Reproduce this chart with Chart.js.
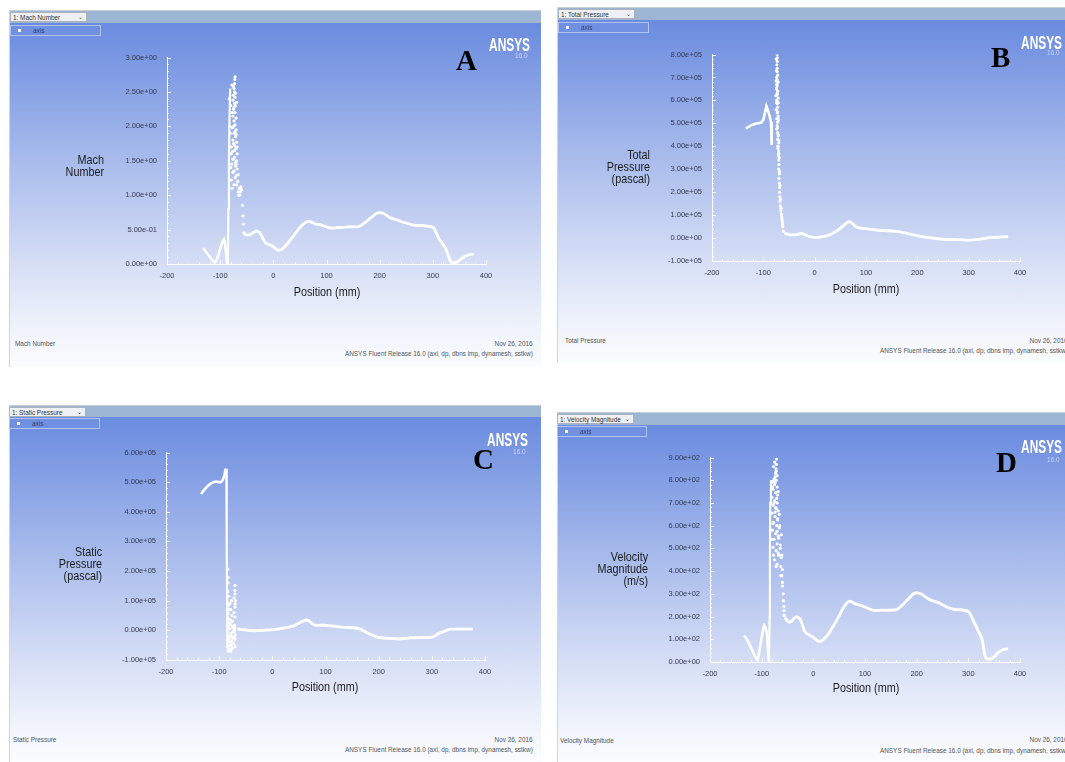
<!DOCTYPE html>
<html><head><meta charset="utf-8">
<script src="https://cdn.jsdelivr.net/npm/chart.js@4.4.1/dist/chart.umd.min.js"></script>
<style>
html,body{margin:0;padding:0}
body{width:1065px;height:762px;background:#fff;position:relative;overflow:hidden;font-family:"Liberation Sans",Arial,sans-serif}
.panel{position:absolute;overflow:hidden;border-left:1px solid #cfd4dc}
.hdr{position:absolute;left:0;right:0;top:0;background:#9db6d3;border-top:1px solid #c9ced6}
.grad{position:absolute;left:0;right:0;bottom:0;background:linear-gradient(to bottom,#6a8bdf 0%,#a5b9eb 38%,#d3dcf5 68%,#eef2fb 88%,#fbfcfe 100%)}
.dd{position:absolute;height:10px;background:#eef0f3;border:1px solid #aab2be;box-sizing:border-box;font-size:6.4px;line-height:9px;color:#333;padding-left:2px;white-space:nowrap}
.dd span{position:absolute;right:3px;top:0;font-size:6px;color:#555}
.leg{position:absolute;height:11px;border:1px solid #b3c3f1;box-sizing:border-box;background:#7091e1}
.leg i{position:absolute;left:7px;top:3px;width:3px;height:3px;background:#fff}
.leg b{position:absolute;left:22px;top:0;font-weight:normal;font-size:6.5px;line-height:9px;color:#33406a}
.t{position:absolute;white-space:nowrap}
.ytl{font-size:13.5px;line-height:12px;color:#1c1c1c;text-align:right;transform:scaleX(0.8);transform-origin:right top}
.xtl{font-size:13.5px;line-height:14px;color:#1c1c1c;transform:translateX(-50%) scaleX(0.8)}
.bl{font-size:8px;line-height:10px;color:#555;transform:scaleX(0.8);transform-origin:left top}
.br{font-size:8px;line-height:10px;color:#555;transform:scaleX(0.8);transform-origin:right top;text-align:right}
.ans{font-size:18px;line-height:18px;font-weight:bold;color:#fff;transform:scaleX(0.66);transform-origin:right top}
.ver{font-size:8px;line-height:10px;color:#c9d4f3;transform:scaleX(0.8);transform-origin:right top}
.let{font-family:"Liberation Serif","Times New Roman",serif;font-weight:bold;font-size:29px;line-height:29px;color:#000}
canvas{position:absolute}
</style>
</head><body>
<script>
// ---------------- DATA ----------------
// A: Mach Number vs Position (mm)
const machLeftX  = [-132, -126, -120, -114, -110, -107, -103, -99, -95, -93, -91, -89, -87, -85.5];
const machLeftY  = [0.23, 0.17, 0.11, 0.05, 0.02, 0.05, 0.14, 0.25, 0.34, 0.36, 0.30, 0.15, 0.02, 0.0];
const machSpikeLineX = [-85.5, -84.5, -83.5, -82.5, -81];
const machSpikeLineY = [0.0, 0.8, 1.5, 2.1, 2.55];
const machSpikeX = [-72, -72.5, -73, -74, -73, -75, -72, -76, -73, -71, -75, -72, -76, -70, -74, -72, -77, -70, -74, -71, -76, -69, -73, -70, -77, -68, -73, -69, -78, -71, -68, -76, -70, -79, -67, -74, -64, -62, -61, -63, -60, -58, -57, -56, -80, -81, -79, -66, -65,
                    -78, -75, -71, -69, -74, -77, -72, -70, -75, -79, -73, -68, -71, -76, -74, -70, -66, -69, -72, -78, -80, -82, -81, -83, -75];
const machSpikeY = [2.72, 2.68, 2.62, 2.55, 2.50, 2.45, 2.42, 2.38, 2.33, 2.30, 2.25, 2.20, 2.15, 2.12, 2.08, 2.02, 1.98, 1.95, 1.90, 1.85, 1.80, 1.77, 1.72, 1.68, 1.63, 1.60, 1.55, 1.50, 1.45, 1.42, 1.38, 1.33, 1.28, 1.22, 1.20, 1.15, 1.10, 1.05, 1.12, 1.00, 1.08, 0.85, 0.70, 0.58, 2.30, 1.90, 1.60, 1.05, 1.0,
                    2.60, 2.58, 2.48, 2.35, 2.28, 2.20, 1.92, 1.88, 1.75, 1.70, 1.65, 1.70, 1.48, 1.52, 1.35, 1.45, 1.30, 1.15, 1.25, 1.10, 1.40, 2.00, 1.70, 2.40, 2.00];
const machRightX = [-57, -53, -48, -43, -37, -32, -28, -24, -20, -16, -12, -8, -4, 0, 5, 10, 15, 20, 26, 32, 38, 44, 50, 56, 62, 68, 74, 80, 88, 96, 104, 112, 120, 130, 140, 150, 158, 165, 172, 180, 188, 195, 202, 208, 214, 220, 228, 236, 244, 252, 260, 270, 280, 290, 298, 302, 306, 310, 314, 318, 322, 326, 330, 334, 338, 342, 348, 354, 360, 366, 372, 377];
const machRightY = [0.47, 0.43, 0.42, 0.43, 0.46, 0.48, 0.47, 0.44, 0.38, 0.32, 0.29, 0.28, 0.27, 0.25, 0.22, 0.20, 0.21, 0.24, 0.29, 0.35, 0.41, 0.47, 0.53, 0.58, 0.61, 0.62, 0.60, 0.58, 0.57, 0.55, 0.53, 0.52, 0.53, 0.53, 0.54, 0.54, 0.54, 0.56, 0.60, 0.65, 0.70, 0.74, 0.745, 0.73, 0.70, 0.67, 0.65, 0.63, 0.61, 0.59, 0.57, 0.56, 0.56, 0.55, 0.54, 0.52, 0.46, 0.39, 0.34, 0.30, 0.25, 0.19, 0.10, 0.03, 0.02, 0.02, 0.04, 0.08, 0.11, 0.13, 0.14, 0.14];
const machTicks = [0, 0.5, 1.0, 1.5, 2.0, 2.5, 3.0];

// B: Total Pressure (pascal)
const tpLeftX = [-134, -128, -122, -116, -110, -104, -100, -97, -94, -91, -88, -85, -84, -83.5];
const tpLeftY = [4.77e5, 4.86e5, 4.93e5, 4.98e5, 5.0e5, 5.03e5, 5.15e5, 5.45e5, 5.75e5, 5.55e5, 5.34e5, 5.05e5, 4.6e5, 4.05e5];
const tpSpikeX = [-73, -73, -73, -73.5, -73, -73, -72, -74, -73, -71, -73, -74, -72, -73.5, -71, -74, -73, -72, -75, -73, -71, -74, -72, -73, -74, -72, -71, -72, -70, -71, -70, -70.5, -70, -69.5, -70, -69, -69.5, -69, -68.5, -68, -68, -67.5, -67, -66, -65, -64, -63, -62, -61,
                  -75, -74.5, -75, -74, -75.5, -74, -72, -70.5, -72.5, -71, -70, -71.5, -69, -68.5, -67.5, -66.5, -65.5, -64.5, -63.5, -62.5, -74, -73, -71, -72, -70];
const tpSpikeY = [8.0e5, 7.85e5, 7.7e5, 7.55e5, 7.4e5, 7.25e5, 7.1e5, 7.0e5, 6.9e5, 6.8e5, 6.65e5, 6.5e5, 6.4e5, 6.25e5, 6.1e5, 6.0e5, 5.85e5, 5.7e5, 5.6e5, 5.45e5, 5.3e5, 5.2e5, 5.05e5, 4.9e5, 4.75e5, 4.6e5, 4.45e5, 4.3e5, 4.15e5, 4.0e5, 3.8e5, 3.6e5, 3.4e5, 3.2e5, 3.0e5, 2.8e5, 2.6e5, 2.4e5, 2.2e5, 2.0e5, 1.8e5, 1.6e5, 1.4e5, 1.2e5, 1.05e5, 0.9e5, 0.7e5, 0.5e5, 0.3e5,
                  7.8e5, 7.3e5, 6.85e5, 6.55e5, 6.2e5, 5.9e5, 5.5e5, 5.15e5, 4.8e5, 4.5e5, 4.25e5, 3.9e5, 3.5e5, 2.9e5, 2.3e5, 1.7e5, 1.3e5, 1.0e5, 0.8e5, 0.6e5, 6.7e5, 6.3e5, 5.9e5, 4.0e5, 3.7e5];
const tpRightX = [-59, -55, -50, -45, -40, -35, -30, -25, -20, -15, -10, -5, 0, 5, 10, 15, 20, 25, 30, 35, 40, 45, 50, 55, 60, 65, 68, 72, 76, 80, 85, 90, 100, 110, 120, 130, 140, 150, 160, 170, 180, 190, 200, 210, 220, 230, 240, 250, 260, 270, 280, 290, 300, 310, 320, 330, 340, 350, 360, 370, 377];
const tpRightY = [0.22e5, 0.18e5, 0.15e5, 0.14e5, 0.14e5, 0.15e5, 0.18e5, 0.2e5, 0.16e5, 0.1e5, 0.06e5, 0.04e5, 0.03e5, 0.03e5, 0.04e5, 0.06e5, 0.08e5, 0.11e5, 0.15e5, 0.2e5, 0.27e5, 0.34e5, 0.42e5, 0.52e5, 0.62e5, 0.7e5, 0.72e5, 0.66e5, 0.58e5, 0.5e5, 0.45e5, 0.43e5, 0.41e5, 0.38e5, 0.35e5, 0.33e5, 0.32e5, 0.31e5, 0.29e5, 0.25e5, 0.2e5, 0.15e5, 0.1e5, 0.06e5, 0.03e5, 0.0, -0.03e5, -0.05e5, -0.06e5, -0.06e5, -0.07e5, -0.08e5, -0.09e5, -0.08e5, -0.06e5, -0.02e5, 0.02e5, 0.03e5, 0.04e5, 0.05e5, 0.06e5];
const tpTicks = [-1e5, 0, 1e5, 2e5, 3e5, 4e5, 5e5, 6e5, 7e5, 8e5];

// C: Static Pressure (pascal)
const spLeftX = [-134, -130, -126, -121, -116, -111, -106, -101, -97, -94, -92, -90, -88, -86.5];
const spLeftY = [4.6e5, 4.7e5, 4.78e5, 4.88e5, 4.95e5, 5.0e5, 5.02e5, 5.0e5, 5.0e5, 5.05e5, 5.12e5, 5.25e5, 5.42e5, 5.45e5];
const spSpikeLineX = [-86.5, -86, -85.5, -85, -84.5];
const spSpikeLineY = [5.45e5, 4.0e5, 2.5e5, 1.0e5, -0.6e5];
const spSpikeX = [-83.4, -83.4, -83, -70.2, -70.5, -70.2, -82, -76.5, -70, -83, -70.2, -78, -83.4, -72, -78.4, -70, -81, -70.8, -75, -80, -72, -78, -70, -82, -74, -84.6, -70, -79, -77, -82, -80, -78, -83, -75, -71, -73, -76,
                  -83, -81, -79, -77, -75, -73, -71, -69.5, -82, -80, -76, -72, -70, -84, -81, -78, -74, -71, -83, -79];
const spSpikeY = [2.07e5, 1.79e5, 1.6e5, 1.51e5, 1.35e5, 1.23e5, 1.15e5, 1.0e5, 0.9e5, 0.85e5, 0.79e5, 0.7e5, 0.57e5, 0.6e5, 0.35e5, 0.45e5, 0.25e5, 0.18e5, 0.12e5, 0.05e5, -0.05e5, -0.1e5, -0.15e5, -0.2e5, -0.25e5, -0.32e5, -0.3e5, -0.4e5, -0.49e5, -0.55e5, -0.66e5, -0.7e5, -0.7e5, -0.6e5, 0.02e5, 0.08e5, -0.35e5,
                  0.4e5, -0.3e5, 0.2e5, -0.2e5, 0.3e5, -0.45e5, 0.1e5, 1.0e5, -0.6e5, 0.9e5, 0.5e5, 1.1e5, -0.55e5, 1.3e5, 0.7e5, -0.65e5, -0.05e5, -0.2e5, 0.15e5, -0.5e5];
const spRightX = [-66, -60, -55, -50, -45, -40, -30, -20, -10, 0, 10, 20, 25, 30, 35, 40, 45, 50, 55, 60, 64, 68, 72, 76, 80, 85, 90, 100, 110, 120, 130, 140, 150, 160, 165, 170, 175, 180, 185, 190, 195, 200, 210, 220, 230, 240, 250, 260, 270, 280, 290, 300, 305, 310, 315, 320, 325, 330, 335, 340, 350, 360, 370, 377];
const spRightY = [0.04e5, 0.03e5, 0.02e5, 0.01e5, 0.0, -0.01e5, -0.01e5, 0.0, 0.01e5, 0.02e5, 0.04e5, 0.07e5, 0.09e5, 0.11e5, 0.13e5, 0.15e5, 0.19e5, 0.24e5, 0.29e5, 0.33e5, 0.35e5, 0.33e5, 0.28e5, 0.22e5, 0.18e5, 0.17e5, 0.17e5, 0.17e5, 0.15e5, 0.13e5, 0.11e5, 0.1e5, 0.09e5, 0.07e5, 0.04e5, 0.0, -0.05e5, -0.1e5, -0.14e5, -0.18e5, -0.21e5, -0.24e5, -0.26e5, -0.27e5, -0.28e5, -0.29e5, -0.27e5, -0.25e5, -0.25e5, -0.24e5, -0.24e5, -0.23e5, -0.2e5, -0.14e5, -0.09e5, -0.06e5, -0.02e5, 0.02e5, 0.04e5, 0.04e5, 0.04e5, 0.04e5, 0.04e5, 0.04e5];
const spTicks = [-1e5, 0, 1e5, 2e5, 3e5, 4e5, 5e5, 6e5];

// D: Velocity Magnitude (m/s)
const velLeftX = [-134, -128, -122, -116, -111, -108, -105, -101, -97, -95, -93, -90, -88, -86];
const velLeftY = [117, 98, 70, 40, 18, 8, 40, 95, 145, 160, 152, 130, 60, 5];
const velSpikeLineX = [-86, -84.5, -84, -83.5, -82];
const velSpikeLineY = [0, 200, 450, 700, 800];
const velSpikeX = [-71, -71.5, -72, -73, -74, -76, -78, -80, -72, -75, -70, -78, -73, -69, -80, -75, -70, -78, -72, -68, -80, -74, -69, -77, -71, -66, -79, -73, -68, -76, -70, -64, -78, -72, -67, -62, -75, -70, -63, -60, -61, -60, -59.8, -58, -57.8, -57, -56.6, -56.6,
                   -75, -77, -72, -70, -74, -79, -68, -71, -76, -73, -66, -69, -78, -65, -62, -67, -64, -61, -74, -70, -80, -77, -72, -68, -63];
const velSpikeY = [893, 870, 850, 830, 815, 805, 795, 790, 800, 780, 770, 760, 745, 735, 725, 710, 700, 690, 675, 665, 655, 640, 625, 615, 600, 590, 580, 565, 555, 540, 520, 515, 505, 490, 470, 460, 450, 430, 420, 407, 380, 350, 334, 300, 270, 245, 226, 205,
                   880, 860, 840, 820, 790, 770, 750, 720, 700, 680, 650, 630, 610, 600, 560, 545, 500, 470, 660, 575, 540, 470, 420, 480, 380];
const velRightX = [-55, -50, -46, -42, -38, -34, -30, -26, -22, -18, -14, -10, -5, 0, 5, 10, 15, 20, 25, 30, 35, 40, 45, 50, 55, 60, 65, 70, 75, 80, 90, 100, 110, 120, 130, 140, 150, 160, 165, 170, 175, 180, 185, 190, 195, 200, 205, 210, 215, 220, 230, 240, 250, 260, 270, 280, 290, 300, 304, 308, 312, 316, 320, 324, 328, 332, 336, 340, 345, 350, 355, 360, 365, 370, 377];
const velRightY = [196, 180, 175, 180, 190, 198, 197, 190, 170, 140, 128, 122, 115, 108, 98, 92, 92, 100, 112, 126, 145, 163, 182, 203, 225, 245, 260, 268, 264, 257, 250, 242, 232, 226, 228, 228, 228, 230, 236, 246, 257, 268, 280, 292, 302, 305, 302, 298, 290, 282, 270, 262, 252, 240, 233, 230, 229, 222, 210, 190, 170, 152, 133, 115, 85, 30, 12, 13, 15, 22, 35, 45, 52, 56, 58];
const velTicks = [0, 100, 200, 300, 400, 500, 600, 700, 800, 900];

const posTicks = [-200, -100, 0, 100, 200, 300, 400];

// ---------------- LAYOUT (page px) ----------------
const PANELS = [
  {key:'A', box:[9,10,531,357], hdr:13, dd:[1,2,77], leg:[1,15,91], plot:[167,55,486,264], yr:[0,3], ticks:machTicks,
   series:[machLeftX,machLeftY,machSpikeLineX,machSpikeLineY,machSpikeX,machSpikeY,machRightX,machRightY],
   ddText:'1: Mach Number', ytitle:['Mach','Number'], yt:[104,154], xt:[327,285], letter:[456,46], ans:[530,36], ver:[528,51],
   foot:['Mach Number',15,339], date:[533,339], rel:[533,349]},
  {key:'B', box:[557,7,508,356], hdr:13, dd:[1,2,77], leg:[1,15,91], plot:[712,52,1020,261], yr:[-1e5,8e5], ticks:tpTicks,
   series:[tpLeftX,tpLeftY,[],[],tpSpikeX,tpSpikeY,tpRightX,tpRightY],
   ddText:'1: Total Pressure', ytitle:['Total','Pressure','(pascal)'], yt:[650,149], xt:[866,282], letter:[991,43], ans:[1062,34], ver:[1060,48],
   foot:['Total Pressure',565,336], date:[1068,336], rel:[1068,346]},
  {key:'C', box:[9,405,531,357], hdr:12, dd:[0,2,77], leg:[0,14,91], plot:[166,450,485,660], yr:[-1e5,6e5], ticks:spTicks,
   series:[spLeftX,spLeftY,spSpikeLineX,spSpikeLineY,spSpikeX,spSpikeY,spRightX,spRightY],
   ddText:'1: Static Pressure', ytitle:['Static','Pressure','(pascal)'], yt:[102,546], xt:[325,680], letter:[473,445], ans:[528,431], ver:[526,447],
   foot:['Static Pressure',13,735], date:[533,735], rel:[533,745]},
  {key:'D', box:[557,412,508,350], hdr:13, dd:[0,2,77], leg:[0,14,90], plot:[710,455,1020,662], yr:[0,900], ticks:velTicks,
   series:[velLeftX,velLeftY,velSpikeLineX,velSpikeLineY,velSpikeX,velSpikeY,velRightX,velRightY],
   ddText:'1: Velocity Magnitude', ytitle:['Velocity','Magnitude','(m/s)'], yt:[648,551], xt:[866,681], letter:[996,448], ans:[1062,438], ver:[1060,455],
   foot:['Velocity Magnitude',560,736], date:[1068,735], rel:[1068,746]}
];

function sci(v){
  if (Math.abs(v) < 1e-12) return '0.00e+00';
  let e = Math.floor(Math.log10(Math.abs(v)) + 1e-9);
  let ms = (v / Math.pow(10, e)).toFixed(2);
  if (Math.abs(parseFloat(ms)) >= 10) { e += 1; ms = (v/Math.pow(10,e)).toFixed(2); }
  const es = (e < 0 ? '-' : '+') + String(Math.abs(e)).padStart(2,'0');
  return ms + 'e' + es;
}
function zip(xs, ys){ return xs.map((x,i)=>({x:x, y:ys[i]})); }
function el(tag, cls, style, text){
  const d = document.createElement(tag); if (cls) d.className = cls;
  Object.assign(d.style, style||{}); if (text!=null) d.textContent = text;
  document.body.appendChild(d); return d;
}
const px = v => v + 'px';

const tickMarks = {
  id:'tickMarks',
  afterDraw(chart){
    const {ctx, scales:{x, y}, chartArea:a} = chart;
    ctx.save();
    ctx.strokeStyle = 'rgba(255,255,255,0.95)'; ctx.lineWidth = 1;
    const yt = y.ticks.map(t=>t.value);
    for (let i=0;i<yt.length;i++){
      const p = Math.round(y.getPixelForValue(yt[i])) + 0.5;
      ctx.beginPath(); ctx.moveTo(a.left, p); ctx.lineTo(a.left+4, p); ctx.stroke();
      if (i < yt.length-1){
        for (let k=1;k<5;k++){
          const q = Math.round(y.getPixelForValue(yt[i] + (yt[i+1]-yt[i])*k/5)) + 0.5;
          ctx.beginPath(); ctx.moveTo(a.left, q); ctx.lineTo(a.left+2, q); ctx.stroke();
        }
      }
    }
    const xt = x.ticks.map(t=>t.value);
    for (let i=0;i<xt.length;i++){
      const p = Math.round(x.getPixelForValue(xt[i])) + 0.5;
      ctx.beginPath(); ctx.moveTo(p, a.bottom); ctx.lineTo(p, a.bottom-4); ctx.stroke();
      if (i < xt.length-1){
        for (let k=1;k<5;k++){
          const q = Math.round(x.getPixelForValue(xt[i] + (xt[i+1]-xt[i])*k/5)) + 0.5;
          ctx.beginPath(); ctx.moveTo(q, a.bottom); ctx.lineTo(q, a.bottom-2); ctx.stroke();
        }
      }
    }
    ctx.restore();
  }
};

const tickFont = {family:'"Liberation Sans Narrow","Liberation Sans",Arial,sans-serif', size:7.5};
const PADL = 80, PADT = 12, PADR = 24, PADB = 22;

PANELS.forEach(P => {
  const [bx,by,bw,bh] = P.box;
  const panel = el('div','panel',{left:px(bx),top:px(by),width:px(bw),height:px(bh)});
  const hdr = document.createElement('div'); hdr.className='hdr'; hdr.style.height = px(P.hdr); panel.appendChild(hdr);
  const grad = document.createElement('div'); grad.className='grad'; grad.style.top = px(P.hdr); panel.appendChild(grad);
  const dd = el('div','dd',{left:px(bx+P.dd[0]),top:px(by+P.dd[1]),width:px(P.dd[2])}, P.ddText);
  const arrow = document.createElement('span'); arrow.textContent='\u2304'; dd.appendChild(arrow);
  const leg = el('div','leg',{left:px(bx+P.leg[0]),top:px(by+P.hdr+P.leg[1]-13),width:px(P.leg[2])});
  leg.appendChild(document.createElement('i'));
  const lb = document.createElement('b'); lb.textContent='axis'; leg.appendChild(lb);

  const [L,T,R,B] = P.plot;
  const cw = (R-L) + PADL + PADR, ch = (B-T) + PADT + PADB;
  const cv = document.createElement('canvas');
  cv.width = cw; cv.height = ch;
  cv.style.left = px(L-PADL); cv.style.top = px(T-PADT);
  cv.style.width = px(cw); cv.style.height = px(ch);
  document.body.appendChild(cv);

  const s = P.series;
  const lineDs = (data, tension, w) => ({data, showLine:true, borderColor:'#ffffff', borderWidth:w, pointRadius:0, tension, fill:false});
  new Chart(cv, {
    type:'scatter',
    data:{datasets:[
      lineDs(zip(s[0],s[1]), 0, 2.6),
      lineDs(zip(s[2],s[3]), 0, 2.2),
      {data:zip(s[4],s[5]), showLine:false, pointRadius:1.6, pointBackgroundColor:'#ffffff', pointBorderWidth:0, borderColor:'#ffffff', backgroundColor:'#ffffff'},
      lineDs(zip(s[6],s[7]), 0.2, 2.9)
    ]},
    options:{
      responsive:false, maintainAspectRatio:false, animation:false, devicePixelRatio:1,
      layout:{padding:{left:0, top:PADT, right:PADR, bottom:0}},
      plugins:{legend:{display:false}, tooltip:{enabled:false}},
      scales:{
        x:{type:'linear', min:-200, max:400,
           afterBuildTicks(sc){ sc.ticks = posTicks.map(v=>({value:v})); },
           afterFit(sc){ sc.height = PADB; },
           grid:{display:false, drawTicks:false},
           border:{display:true, color:'#ffffff', width:1},
           ticks:{font:tickFont, color:'#353a50', padding:7, maxRotation:0, autoSkip:false, callback:v=>String(v)}},
        y:{type:'linear', min:P.yr[0], max:P.yr[1],
           afterBuildTicks(sc){ sc.ticks = P.ticks.map(v=>({value:v})); },
           afterFit(sc){ sc.width = PADL; },
           grid:{display:false, drawTicks:false},
           border:{display:true, color:'#ffffff', width:1},
           ticks:{font:tickFont, color:'#353a50', padding:10, autoSkip:false, callback:v=>sci(v)}}
      }
    },
    plugins:[tickMarks]
  });

  const yt = el('div','t ytl',{right:px(1065-P.yt[0]),top:px(P.yt[1])});
  yt.innerHTML = P.ytitle.join('<br>');
  el('div','t xtl',{left:px(P.xt[0]),top:px(P.xt[1])}, 'Position (mm)');
  el('div','t let',{left:px(P.letter[0]),top:px(P.letter[1])}, P.key);
  el('div','t ans',{right:px(1065-P.ans[0]),top:px(P.ans[1])}, 'ANSYS');
  el('div','t ver',{right:px(1065-P.ver[0]),top:px(P.ver[1])}, '16.0');
  el('div','t bl',{left:px(P.foot[1]),top:px(P.foot[2])}, P.foot[0]);
  el('div','t br',{right:px(1065-P.date[0]),top:px(P.date[1])}, 'Nov 26, 2016');
  el('div','t br',{right:px(1065-P.rel[0]),top:px(P.rel[1])}, 'ANSYS Fluent Release 16.0 (axi, dp, dbns imp, dynamesh, sstkw)');
});
</script>
</body></html>
